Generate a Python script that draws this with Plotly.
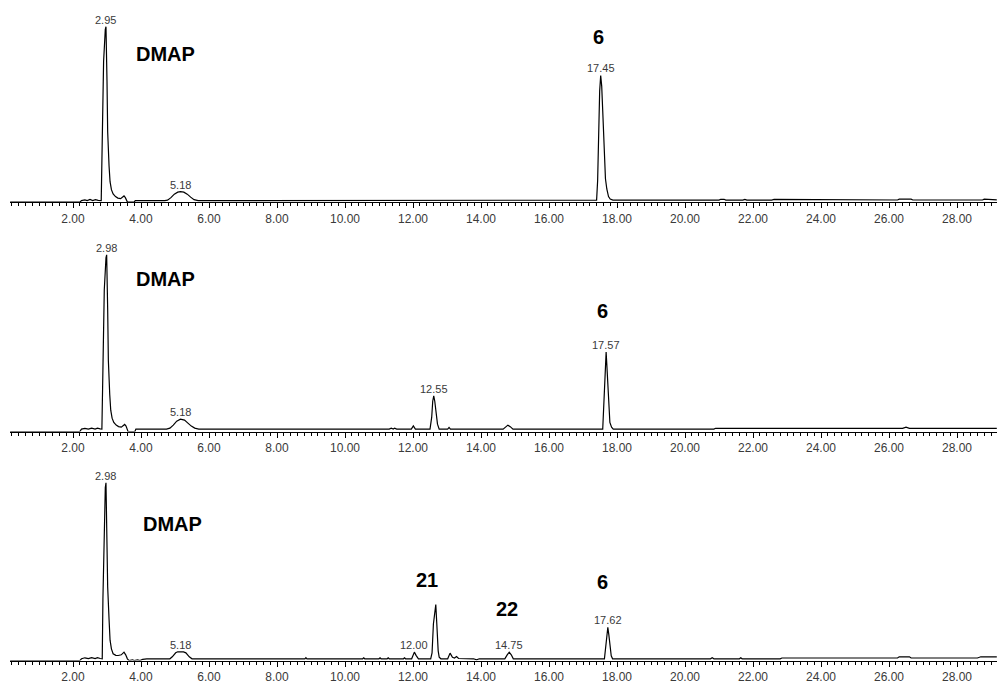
import plotly.graph_objects as go

# ---------------- data (retention time in min, detector signal in arbitrary units) -------------
run1_time = [0.15, 2.20, 2.25, 2.35, 2.42, 2.50, 2.58, 2.66, 2.74, 2.80, 2.83, 2.86, 2.90, 2.95, 2.97,
             3.00, 3.02, 3.06, 3.09, 3.13, 3.18, 3.25, 3.32, 3.40, 3.46, 3.50, 3.54, 3.57, 3.60, 3.80,
             3.83, 4.70, 4.78, 4.88, 4.98, 5.08, 5.16, 5.26, 5.36, 5.46, 5.56, 5.68, 11.38, 11.42,
             17.40, 17.43, 17.46, 17.49, 17.52, 17.55, 17.58, 17.62, 17.66, 17.70, 17.75, 17.80, 17.88,
             21.00, 21.05, 21.15, 21.20, 21.70, 21.76, 21.82, 22.55, 22.62, 22.90, 22.95, 26.25, 26.30,
             26.40, 26.45, 26.55, 26.65, 26.70, 28.75, 28.80, 29.00, 29.05, 29.17]
run1_signal = [-1.5, -1.5, 0, 0.8, 0, 1.2, 0, 1.0, 0.2, 0.5, 0, 60, 140, 172, 174.7,
               120, 69, 35, 19, 11, 6.7, 4, 2.5, 2, 3.5, 4.7, 3, 0, -1.5, -1.5,
               0, 0, 0.5, 3, 6.5, 8.5, 9, 8.5, 6.5, 3.5, 1, 0, 0, 0.5,
               0.5, 20, 75, 110, 125.7, 115, 90, 44.7, 22, 11.7, 4, 1.5, 0.5,
               0.5, 1.3, 1.3, 0.5, 0.5, 1.3, 0.5, 0.5, 1.3, 1.3, 0.6, 0.6, 1.4,
               1.4, 0.8, 1.4, 1.4, 0.6, 0.6, 1.5, 1.5, 0.8, 0.8]

run2_time = [0.15, 2.20, 2.25, 2.35, 2.45, 2.55, 2.65, 2.72, 2.80, 2.85, 2.88, 2.92, 2.97, 2.99,
             3.02, 3.04, 3.08, 3.11, 3.15, 3.20, 3.27, 3.34, 3.42, 3.48, 3.52, 3.56, 3.59, 3.62,
             3.82, 3.85, 4.75, 4.85, 4.95, 5.05, 5.16, 5.28, 5.38, 5.48, 5.58, 5.70, 11.30, 11.36,
             11.42, 11.46, 11.52, 11.95, 12.01, 12.07, 12.50, 12.55, 12.58, 12.61, 12.64, 12.68,
             12.72, 12.77, 13.02, 13.06, 13.10, 14.65, 14.72, 14.79, 14.86, 14.94, 17.58, 17.60,
             17.62, 17.66, 17.68, 17.70, 17.73, 17.76, 17.79, 17.84, 17.89, 20.85, 20.90, 26.40,
             26.50, 26.60, 29.17]
run2_signal = [-2.5, -2.5, 0, 0.8, 0, 1.0, 0, 1.0, 0.3, 0, 60, 140, 172, 175,
               120, 69, 35, 19, 11, 6.7, 4, 2.5, 2, 3.5, 4.7, 3, 0, -2.5,
               -2.5, 0, 0, 1, 4, 8, 10, 9, 6, 3, 1, 0, 0, 1,
               0, 1, 0, 0, 3.3, 0, 0, 12, 28, 33.3, 28, 14,
               5, 0, 0, 1.7, 0, 0, 2.5, 4, 2.5, 0, 0, 15,
               40, 70, 77.3, 65, 40, 18, 6.7, 2, 0, 0, 0.8, 0.8,
               2, 0.8, 0.8]

run3_time = [0.15, 2.20, 2.25, 2.35, 2.45, 2.55, 2.65, 2.72, 2.80, 2.86, 2.88, 2.92, 2.95, 2.97,
             3.00, 3.02, 3.06, 3.09, 3.13, 3.18, 3.26, 3.33, 3.42, 3.50, 3.55, 3.60, 3.65, 3.75,
             3.80, 3.90, 3.97, 4.05, 4.17, 4.85, 4.92, 5.02, 5.08, 5.25, 5.32, 5.42, 5.50, 8.82,
             8.85, 8.88, 10.52, 10.55, 10.58, 11.00, 11.03, 11.06, 11.24, 11.27, 11.30, 11.72,
             11.75, 11.78, 11.96, 12.00, 12.04, 12.09, 12.16, 12.52, 12.56, 12.60, 12.64, 12.67,
             12.70, 12.71, 12.74, 12.77, 12.82, 13.02, 13.09, 13.16, 13.22, 13.28, 13.34, 13.78,
             13.87, 13.95, 14.70, 14.77, 14.83, 14.89, 14.95, 17.63, 17.66, 17.70, 17.73, 17.76,
             17.79, 17.83, 17.87, 20.75, 20.80, 20.85, 21.60, 21.64, 21.68, 22.80, 22.85, 26.25,
             26.30, 26.60, 26.65, 28.60, 28.70, 29.17]
run3_signal = [-1.8, -1.8, 0, 1, 0.2, 1.2, 0.3, 1.2, 0.3, 0, 60, 140, 172, 176.7,
               120, 72, 40, 18.7, 10, 5, 3.5, 3.3, 4, 6.7, 4, 0, -1.8, -1.0,
               -1.8, -1.2, -1.8, -0.5, 0, 0, 2, 6, 7, 7, 6, 2, 0, 0,
               1.2, 0, 0, 1, 0, 0, 1, 0, 0, 1, 0, 0,
               1, 0, 0, 4.5, 6.7, 3.5, 0, 0, 6, 35, 50, 54.4,
               35, 21.7, 8, 1.7, 0, 0, 5.7, 1.5, 0.8, 2.3, 0.3, 0,
               -1, 0, 0, 4, 6.7, 4, 0, 0, 10, 27, 31.7, 24,
               11.7, 3, 0, 0, 1, 0, 0, 1, 0, 0, 0.8, 0.8,
               2, 2, 0.8, 0.8, 2, 2]

# apex labels: (retention-time text, apex time, apex signal)
run1_peak_text = ["2.95", "5.18", "17.45"]
run1_peak_time = [2.97, 5.16, 17.52]
run1_peak_height = [174.7, 9, 125.7]
run2_peak_text = ["2.98", "5.18", "12.55", "17.57"]
run2_peak_time = [2.99, 5.16, 12.61, 17.68]
run2_peak_height = [175, 10, 33.3, 77.3]
run3_peak_text = ["2.98", "5.18", "12.00", "14.75", "17.62"]
run3_peak_time = [2.97, 5.16, 12.04, 14.83, 17.73]
run3_peak_height = [176.7, 7, 6.7, 6.7, 31.7]

# compound labels
run1_compounds = ["DMAP", "6"]
run2_compounds = ["DMAP", "6"]
run3_compounds = ["DMAP", "21", "22", "6"]

tick_values = [2, 4, 6, 8, 10, 12, 14, 16, 18, 20, 22, 24, 26, 28]
tick_labels = ["2.00", "4.00", "6.00", "8.00", "10.00", "12.00", "14.00", "16.00",
               "18.00", "20.00", "22.00", "24.00", "26.00", "28.00"]

# ---------------- layout helpers (positions / styles) ----------------
W, H = 998, 684
FONT = "Arial, 'Liberation Sans', sans-serif"
compound_pos = {
    1: [(4.71, 147.5), (17.47, 164)],
    2: [(4.71, 151), (17.57, 119)],
    3: [(4.94, 135.7), (12.40, 79.2), (14.76, 50.2), (17.57, 77.2)],
}
# (domain top px, axis px, y-range)
panels = {
    1: (0, 203, [-1.5, 201.5]),
    2: (231, 433.5, [-2.5, 200]),
    3: (461, 663.5, [-1.8, 200.7]),
}

runs = {
    1: (run1_time, run1_signal, run1_peak_text, run1_peak_time, run1_peak_height, run1_compounds),
    2: (run2_time, run2_signal, run2_peak_text, run2_peak_time, run2_peak_height, run2_compounds),
    3: (run3_time, run3_signal, run3_peak_text, run3_peak_time, run3_peak_height, run3_compounds),
}

fig = go.Figure()
annotations = []
layout = dict(width=W, height=H, margin=dict(l=0, r=0, t=0, b=0),
              paper_bgcolor="white", plot_bgcolor="white", showlegend=False)

for i, (t, s, ptxt, pt, ph, comps) in runs.items():
    xa = "x" if i == 1 else f"x{i}"
    ya = "y" if i == 1 else f"y{i}"
    fig.add_trace(go.Scatter(x=t, y=s, mode="lines", xaxis=xa, yaxis=ya,
                             line=dict(color="black", width=1.2), hoverinfo="skip"))
    top, axis_px, yr = panels[i]
    key_x = "xaxis" if i == 1 else f"xaxis{i}"
    key_y = "yaxis" if i == 1 else f"yaxis{i}"
    layout[key_x] = dict(
        domain=[10 / W, 997 / W], range=[0.147, 29.176], anchor=ya,
        showline=True, linecolor="black", linewidth=1, mirror=False,
        ticks="outside", ticklen=5, tickwidth=1, tickcolor="black",
        tickvals=tick_values, ticktext=tick_labels,
        tickfont=dict(family=FONT, size=12, color="#3a3a3a"),
        minor=dict(ticks="outside", ticklen=3, tickwidth=1, tickcolor="black",
                   dtick=0.2, tick0=0, showgrid=False),
        showgrid=False, zeroline=False, fixedrange=True,
    )
    layout[key_y] = dict(domain=[1 - axis_px / H, 1 - top / H], range=yr, anchor=xa,
                         visible=False, showgrid=False, zeroline=False, fixedrange=True)
    for txt, x, y in zip(ptxt, pt, ph):
        annotations.append(dict(x=x, y=y, xref=xa, yref=ya, text=txt, showarrow=False,
                                xanchor="center", yanchor="bottom", yshift=-1,
                                font=dict(family=FONT, size=11, color="#3a3a3a")))
    for name, (x, y) in zip(comps, compound_pos[i]):
        annotations.append(dict(x=x, y=y, xref=xa, yref=ya, text=f"<b>{name}</b>",
                                showarrow=False, xanchor="center", yanchor="middle",
                                font=dict(family=FONT, size=20, color="black")))

layout["annotations"] = annotations
fig.update_layout(**layout)
fig.write_html("out.html")
